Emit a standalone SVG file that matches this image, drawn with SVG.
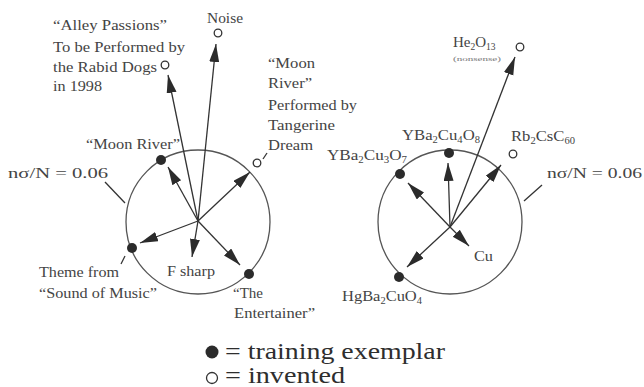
<svg xmlns="http://www.w3.org/2000/svg" width="644" height="387" viewBox="0 0 644 387">
<defs>
<marker id="ah" markerUnits="userSpaceOnUse" markerWidth="19" markerHeight="11" refX="18" refY="5" orient="auto">
<path d="M0,0 L18,5 L0,10 Z" fill="#2b2b2b"/>
</marker>
</defs>
<style>
.t{font-family:"Liberation Serif","Times New Roman",serif;font-size:15px;fill:#444}
.s{font-size:9.5px}
.lg{font-family:"Liberation Serif","Times New Roman",serif;font-size:23px;fill:#2e2e2e}
.ring{fill:none;stroke:#555;stroke-width:1.3}
.arr{stroke:#333;stroke-width:1.3;marker-end:url(#ah)}
.ld{stroke:#333;stroke-width:1.3}
.dot{fill:#2b2b2b}
.open{fill:#fff;stroke:#333;stroke-width:1.3}
</style>
<rect width="644" height="387" fill="#fff"/>

<g id="left-space">
<circle class="ring" cx="198" cy="222" r="72"/>
</g>
<g id="right-space">
<circle class="ring" cx="450" cy="222" r="72"/>
</g>

<g id="connectors">
<line class="arr" x1="198" y1="221" x2="168" y2="75"/>
<line class="arr" x1="198" y1="221" x2="216" y2="44"/>
<line class="arr" x1="198" y1="221" x2="168" y2="167"/>
<line class="arr" x1="198" y1="221" x2="250" y2="172"/>
<line class="arr" x1="198" y1="221" x2="140" y2="243"/>
<line class="arr" x1="198" y1="221" x2="192" y2="257"/>
<line class="arr" x1="198" y1="221" x2="240" y2="265"/>
<line class="arr" x1="450" y1="227" x2="515" y2="57"/>
<line class="arr" x1="450" y1="227" x2="448" y2="163"/>
<line class="arr" x1="450" y1="227" x2="501" y2="165"/>
<line class="arr" x1="450" y1="227" x2="408" y2="183"/>
<line class="arr" x1="450" y1="227" x2="407" y2="267"/>
<line class="arr" x1="450" y1="227" x2="469" y2="246"/>
<line class="ld" x1="105" y1="182" x2="125" y2="203"/>
<line class="ld" x1="542" y1="185" x2="524" y2="201"/>
<line class="ld" x1="125" y1="256" x2="121" y2="264"/>
<line class="ld" x1="263" y1="159" x2="267" y2="153"/>
</g>

<g id="alley">
<circle class="open" cx="165" cy="65" r="3.8"/>
<text class="t" x="53" y="30" textLength="114" lengthAdjust="spacingAndGlyphs">“Alley Passions”</text>
<text class="t" x="53" y="52" textLength="132" lengthAdjust="spacingAndGlyphs">To be Performed by</text>
<text class="t" x="53" y="72" textLength="104" lengthAdjust="spacingAndGlyphs">the Rabid Dogs</text>
<text class="t" x="53" y="91" textLength="49" lengthAdjust="spacingAndGlyphs">in 1998</text>
</g>
<g id="noise">
<circle class="open" cx="218" cy="33" r="3.8"/>
<text class="t" x="207" y="23" textLength="36" lengthAdjust="spacingAndGlyphs">Noise</text>
</g>
<g id="moon-river-tangerine">
<circle class="open" cx="257" cy="163" r="3.8"/>
<text class="t" x="268" y="68" textLength="47" lengthAdjust="spacingAndGlyphs">“Moon</text>
<text class="t" x="268" y="88" textLength="44" lengthAdjust="spacingAndGlyphs">River”</text>
<text class="t" x="268" y="110" textLength="89" lengthAdjust="spacingAndGlyphs">Performed by</text>
<text class="t" x="268" y="130" textLength="67" lengthAdjust="spacingAndGlyphs">Tangerine</text>
<text class="t" x="268" y="150" textLength="45" lengthAdjust="spacingAndGlyphs">Dream</text>
</g>
<g id="moon-river">
<circle class="dot" cx="161" cy="160" r="5"/>
<text class="t" x="86" y="149" textLength="94" lengthAdjust="spacingAndGlyphs">“Moon River”</text>
</g>
<g id="left-radius-label">
<text class="t" x="8" y="178" textLength="100" lengthAdjust="spacingAndGlyphs">nσ/N = 0.06</text>
</g>
<g id="sound-of-music">
<circle class="dot" cx="132" cy="248" r="5"/>
<text class="t" x="39" y="277" textLength="80" lengthAdjust="spacingAndGlyphs">Theme from</text>
<text class="t" x="39" y="298" textLength="118" lengthAdjust="spacingAndGlyphs">“Sound of Music”</text>
</g>
<g id="f-sharp">
<text class="t" x="167" y="276" textLength="48" lengthAdjust="spacingAndGlyphs">F sharp</text>
</g>
<g id="entertainer">
<circle class="dot" cx="249" cy="274" r="5"/>
<text class="t" x="233" y="298" textLength="30" lengthAdjust="spacingAndGlyphs">“The</text>
<text class="t" x="234" y="318" textLength="81" lengthAdjust="spacingAndGlyphs">Entertainer”</text>
</g>

<g id="he2o13">
<circle class="open" cx="520" cy="47" r="3.8"/>
<text class="t" x="453" y="47">He<tspan class="s" dy="3">2</tspan><tspan dy="-3">O</tspan><tspan class="s" dy="3">13</tspan></text>
<text x="453" y="61" font-family="Liberation Serif, serif" font-size="6.5" fill="#777" textLength="48" lengthAdjust="spacingAndGlyphs">(nonsense)</text>
</g>
<g id="ybacu4o8">
<circle class="dot" cx="449" cy="153" r="5"/>
<text class="t" x="402" y="140" textLength="78" lengthAdjust="spacingAndGlyphs">YBa<tspan class="s" dy="3">2</tspan><tspan dy="-3">Cu</tspan><tspan class="s" dy="3">4</tspan><tspan dy="-3">O</tspan><tspan class="s" dy="3">8</tspan></text>
</g>
<g id="rb2csc60">
<circle class="open" cx="513" cy="154" r="3.8"/>
<text class="t" x="511" y="141" textLength="64" lengthAdjust="spacingAndGlyphs">Rb<tspan class="s" dy="3">2</tspan><tspan dy="-3">CsC</tspan><tspan class="s" dy="3">60</tspan></text>
</g>
<g id="ybacu3o7">
<circle class="dot" cx="400" cy="174" r="5"/>
<text class="t" x="327" y="160" textLength="80" lengthAdjust="spacingAndGlyphs">YBa<tspan class="s" dy="3">2</tspan><tspan dy="-3">Cu</tspan><tspan class="s" dy="3">3</tspan><tspan dy="-3">O</tspan><tspan class="s" dy="3">7</tspan></text>
</g>
<g id="right-radius-label">
<text class="t" x="547" y="178" textLength="95" lengthAdjust="spacingAndGlyphs">nσ/N = 0.06</text>
</g>
<g id="cu">
<text class="t" x="474" y="261" textLength="19" lengthAdjust="spacingAndGlyphs">Cu</text>
</g>
<g id="hgba2cuo4">
<circle class="dot" cx="399" cy="277" r="5"/>
<text class="t" x="342" y="301" textLength="80" lengthAdjust="spacingAndGlyphs">HgBa<tspan class="s" dy="3">2</tspan><tspan dy="-3">CuO</tspan><tspan class="s" dy="3">4</tspan></text>
</g>

<g id="legend">
<circle class="dot" cx="212" cy="352" r="6.5"/>
<text class="lg" x="225" y="359" textLength="220" lengthAdjust="spacingAndGlyphs">= training exemplar</text>
<circle class="open" cx="212" cy="378" r="5.5"/>
<text class="lg" x="225" y="383" textLength="120" lengthAdjust="spacingAndGlyphs">= invented</text>
</g>
</svg>
